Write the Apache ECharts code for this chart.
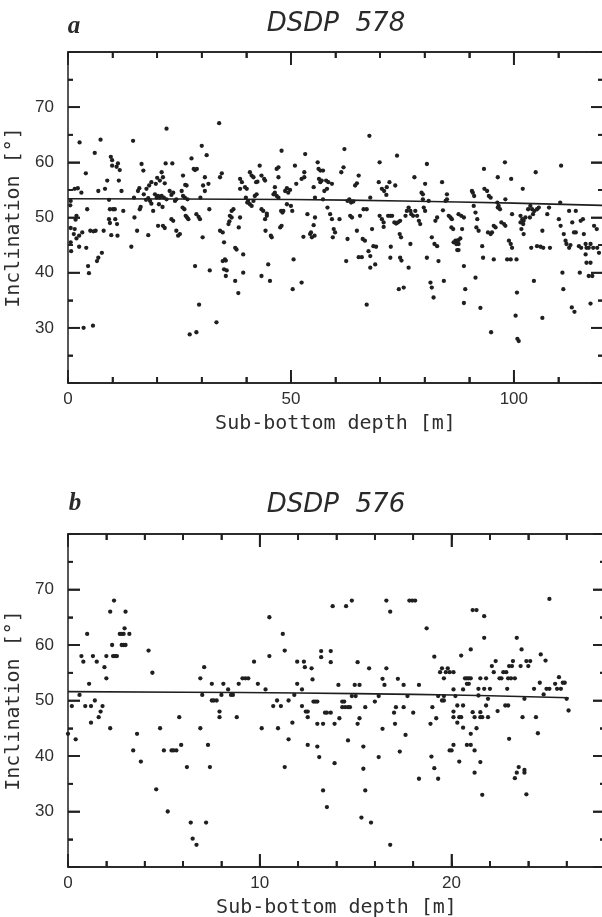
<!DOCTYPE html>
<html>
<head>
<meta charset="utf-8">
<script src="https://cdn.jsdelivr.net/npm/echarts@6/dist/echarts.min.js"></script>
<style>
html,body{margin:0;padding:0;background:#ffffff;}
#chart{width:602px;height:917px;}
</style>
</head>
<body>
<div id="chart"></div>
<script>
// ---------------- DATA ----------------
const titleA = 'DSDP  578';
const titleB = 'DSDP  576';
const panelLetterA = 'a';
const panelLetterB = 'b';
const xNameText = 'Sub-bottom depth [m]';
const yNameText = 'Inclination [°]';

const xRangeA = [0, 120];
const xRangeB = [0, 28];
const yRange = [20, 80];
const xLabelsA = [0, 50, 100];
const xLabelsB = [0, 10, 20];
const yLabels = [30, 40, 50, 60, 70];

// tick positions (axis units)
const xMajorTicksA = [50, 100];
const xMinorTicksA = [10, 20, 30, 40, 60, 70, 80, 90, 110];
const xMajorTicksB = [10, 20];
const xMinorTicksB = [2, 4, 6, 8, 12, 14, 16, 18, 22, 24, 26];
const yMajorTicks = [30, 40, 50, 60, 70];
const yMinorTicks = [25, 35, 45, 55, 65, 75];

// DSDP 578: [sub-bottom depth (m), inclination (deg)]
const pointsA = [
[2.6,63.6],[1.5,55.2],[2.2,55.3],[3.0,54.5],[0.6,53.0],[0.5,52.2],[1.9,50.3],[1.7,49.6],[0.6,48.1],[1.5,47.9],
[1.3,47.0],[2.5,46.7],[1.9,46.2],[0.6,45.5],[2.5,44.7],[0.7,43.9],[3.2,47.3],[4.0,58.0],[4.3,51.5],[4.1,44.5],
[4.5,41.2],[4.7,39.9],[5.0,47.6],[6.0,61.7],[6.8,54.8],[6.2,47.6],[5.7,47.5],[7.3,64.1],[6.5,42.1],[6.8,42.7],
[7.6,43.6],[8.0,47.6],[8.3,55.2],[8.8,56.7],[9.2,53.2],[9.6,61.0],[9.9,60.4],[9.9,59.4],[10.1,51.5],[9.4,51.5],
[9.2,49.7],[9.4,49.0],[9.7,46.8],[11.2,59.8],[10.9,59.2],[11.6,58.6],[11.4,56.7],[10.5,51.5],[10.6,49.7],[11.0,48.8],
[11.1,46.7],[12.0,54.8],[12.4,51.2],[14.2,44.7],[14.6,63.9],[14.8,53.6],[14.9,50.0],[15.5,47.6],[15.7,54.8],[16.0,55.3],
[16.1,51.5],[16.3,51.9],[16.5,59.7],[16.9,58.5],[17.0,54.2],[17.5,53.2],[18.0,46.8],[17.6,55.2],[18.2,55.8],[18.7,56.4],
[18.0,53.5],[18.4,53.0],[18.7,52.5],[19.1,51.2],[19.5,54.2],[19.9,53.6],[19.7,56.1],[20.0,57.2],[20.2,53.9],[20.6,53.6],
[21.0,53.9],[21.5,53.6],[22.1,53.3],[20.4,52.4],[21.2,51.9],[20.6,56.7],[21.3,57.3],[21.7,56.2],[21.0,58.2],[22.1,66.1],
[21.9,59.8],[23.4,59.8],[22.8,54.8],[23.2,54.1],[23.6,54.5],[24.0,53.0],[24.3,53.3],[21.3,48.5],[21.7,48.1],[20.2,48.5],
[23.2,49.7],[23.6,49.4],[24.3,47.6],[24.7,46.7],[25.1,47.0],[25.8,57.6],[26.3,55.9],[26.6,55.8],[25.5,54.8],[25.8,53.9],
[26.2,53.6],[26.8,53.3],[25.7,51.8],[26.1,51.5],[26.4,50.3],[26.7,50.0],[27.0,49.7],[27.7,60.7],[28.2,58.8],[28.5,58.6],
[28.9,58.8],[28.8,50.6],[29.3,50.1],[29.6,49.7],[28.5,41.2],[29.7,53.6],[30.2,46.4],[30.0,63.0],[31.1,61.3],[30.3,55.8],
[30.7,54.8],[31.5,56.1],[30.7,57.3],[31.7,51.5],[31.8,40.4],[33.9,67.1],[34.5,58.0],[34.1,57.3],[34.1,47.6],[34.7,47.3],
[35.0,45.5],[34.7,42.1],[35.2,42.4],[35.4,42.2],[35.0,40.6],[35.6,40.4],[35.4,39.4],[36.3,50.3],[36.7,50.0],[36.2,49.3],
[36.0,48.8],[37.1,51.5],[36.7,51.2],[37.5,44.5],[37.8,44.2],[37.5,38.5],[38.6,57.0],[39.0,56.4],[38.6,55.2],[38.3,48.2],
[38.6,50.0],[39.3,43.3],[39.3,40.0],[40.1,55.2],[39.7,55.5],[40.4,53.0],[39.9,53.6],[40.8,58.2],[41.2,57.6],[41.6,57.3],
[40.2,52.7],[40.8,52.4],[41.2,52.1],[41.6,53.0],[42.2,56.4],[42.5,56.5],[42.3,54.2],[41.9,53.9],[43.0,59.4],[43.4,57.6],
[44.0,57.0],[44.2,56.7],[43.4,51.5],[43.8,51.2],[44.6,50.7],[44.2,49.7],[44.6,50.3],[43.4,39.4],[44.3,47.6],[44.9,41.5],
[45.3,38.5],[45.5,46.7],[45.7,46.4],[46.1,54.2],[46.4,54.5],[46.8,53.9],[47.2,53.6],[46.4,55.5],[46.8,58.8],[47.2,59.1],
[47.2,57.3],[47.9,62.1],[47.8,51.2],[48.1,50.9],[48.3,51.2],[47.6,48.2],[47.9,48.5],[48.7,54.8],[49.1,55.3],[49.4,54.5],
[49.8,55.0],[49.1,52.4],[50.0,52.1],[50.4,37.0],[50.6,42.4],[50.3,51.2],[50.9,59.4],[51.2,56.1],[52.4,57.0],[53.0,57.3],
[53.0,58.2],[52.4,38.2],[52.8,46.5],[53.2,61.5],[53.7,50.6],[54.3,47.0],[54.5,47.3],[54.7,46.4],[55.1,48.6],[56.0,60.0],
[56.2,58.8],[56.6,58.5],[57.2,58.5],[56.3,57.0],[56.6,56.4],[56.9,56.7],[57.5,54.8],[57.2,53.3],[57.9,56.7],[58.4,56.4],
[59.2,56.1],[55.1,55.5],[55.4,53.6],[55.3,46.7],[55.4,50.0],[58.1,55.2],[58.2,51.8],[58.8,50.6],[59.2,49.7],[59.6,47.9],
[59.9,47.3],[59.4,46.4],[60.9,49.7],[61.3,58.2],[61.8,59.1],[62.0,62.4],[62.4,42.1],[62.7,46.1],[62.7,53.0],[63.1,53.3],
[63.5,52.7],[64.0,52.9],[63.3,50.3],[63.7,50.0],[64.4,55.8],[64.8,56.2],[64.8,47.6],[65.2,57.6],[65.2,42.8],[65.9,42.8],
[65.5,50.3],[66.1,46.1],[66.6,45.8],[66.3,51.5],[67.0,51.5],[67.4,43.9],[67.8,43.0],[67.6,64.8],[67.8,53.6],[68.2,47.9],
[68.5,44.8],[69.1,44.7],[68.9,41.5],[67.8,40.9],[67.0,34.2],[69.7,56.4],[69.9,60.0],[69.9,50.3],[70.4,49.7],[70.8,49.1],
[70.4,55.2],[70.9,54.8],[70.8,48.3],[71.8,50.3],[72.3,50.3],[72.7,50.3],[72.1,56.4],[71.5,55.5],[71.4,54.1],[72.3,42.7],
[72.4,44.7],[73.2,49.1],[73.6,48.9],[74.0,49.1],[74.5,49.4],[73.4,55.8],[73.8,61.2],[74.4,47.0],[74.7,46.4],[74.5,42.7],
[74.8,42.2],[74.2,37.0],[75.3,37.3],[75.7,50.3],[76.0,51.2],[76.4,51.8],[76.8,51.2],[77.0,50.6],[77.4,50.3],[76.4,40.9],
[76.8,45.2],[77.7,57.3],[77.9,51.2],[78.3,50.3],[78.7,49.4],[79.0,48.8],[79.3,54.5],[79.6,54.2],[79.6,53.3],[79.8,51.8],
[80.1,51.2],[80.1,56.1],[80.5,59.7],[80.5,42.7],[81.3,38.2],[81.6,37.3],[82.0,35.5],[80.9,53.0],[81.6,46.4],[82.2,45.2],
[82.8,44.8],[82.4,49.4],[82.8,50.0],[83.1,42.1],[83.9,56.4],[84.1,51.3],[84.3,38.5],[84.7,53.0],[85.0,53.3],[85.0,54.2],
[85.4,50.3],[85.8,50.0],[86.1,49.7],[86.5,45.5],[86.9,45.8],[87.3,45.8],[87.6,45.9],[88.0,46.2],[87.6,45.2],[87.1,45.2],
[87.3,44.1],[87.6,44.1],[86.0,48.2],[86.4,47.9],[87.6,50.6],[88.2,50.3],[88.8,50.0],[88.4,47.9],[88.8,41.2],[89.1,37.0],
[88.8,34.5],[90.6,54.8],[90.8,54.5],[91.1,53.9],[91.0,52.1],[91.4,50.9],[91.8,49.7],[91.6,48.2],[92.1,47.6],[91.4,39.1],
[92.9,44.8],[93.1,42.7],[92.5,33.6],[93.3,58.8],[93.4,55.2],[94.0,54.8],[94.4,53.9],[94.8,53.6],[94.2,47.3],[94.8,47.0],
[95.1,47.3],[95.5,48.5],[95.9,48.2],[96.3,52.7],[96.6,52.1],[96.4,51.8],[96.9,51.5],[95.5,42.4],[96.4,57.3],[97.2,49.1],
[97.8,48.8],[98.1,48.5],[98.0,60.0],[98.1,53.3],[98.5,42.4],[99.3,42.4],[98.9,45.8],[99.3,45.2],[99.6,44.5],[99.4,57.0],
[99.6,50.6],[100.6,42.4],[100.7,36.4],[101.5,50.3],[101.9,49.7],[102.2,49.4],[102.6,50.0],[101.5,49.1],[102.1,48.8],[103.2,51.5],
[101.7,47.9],[102.2,47.0],[102.0,55.2],[103.6,50.0],[103.7,52.1],[104.1,51.5],[104.3,50.6],[104.6,51.2],[105.2,51.5],[105.6,51.8],
[103.9,44.5],[104.5,38.5],[104.9,58.2],[105.2,44.8],[106.0,44.7],[106.6,44.5],[106.4,47.6],[107.5,50.6],[107.9,51.8],[108.1,44.5],
[110.1,49.7],[110.5,48.5],[110.4,52.7],[110.6,59.4],[110.9,40.0],[111.1,37.0],[111.2,47.0],[111.6,45.8],[111.8,45.2],[112.4,44.5],
[112.7,45.0],[112.4,51.2],[113.9,51.2],[113.1,49.1],[113.5,47.3],[113.9,47.3],[114.8,40.0],[114.6,44.8],[115.1,44.5],[115.0,49.4],
[115.5,49.7],[115.7,47.0],[116.1,45.2],[116.3,44.5],[116.1,43.3],[116.8,44.5],[117.2,45.2],[117.8,44.5],[116.3,41.8],[117.2,41.8],
[116.8,39.4],[117.6,39.4],[118.0,48.5],[118.6,47.9],[118.7,44.5],[119.1,43.6],
[3.5,30.0],[5.6,30.4],[27.3,28.8],[28.8,29.2],[33.3,31.0],[38.2,36.3],[29.4,34.2],[94.9,29.2],[100.4,32.2],[100.8,28.0],
[101.1,27.6],[106.4,31.8],[113.0,33.7],[113.6,32.9],[117.2,34.4]
];

// DSDP 576: [sub-bottom depth (m), inclination (deg)]
const pointsB = [
[0.0,44],[0.2,49],[0.4,43],[0.6,51],[0.7,58],[0.8,57],[1.0,62],[0.9,49],[1.1,53],[1.2,46],
[1.2,49],[1.3,58],[1.4,50],[1.5,57],[1.6,47],[1.7,48],[1.8,49],[1.9,56],[2.0,54],[2.0,58],
[2.2,45],[2.2,66],[2.3,60],[2.35,58],[2.45,58],[2.55,58],[2.4,68],[2.7,62],[2.8,62],[2.9,62],
[2.8,60],[2.9,60],[3.0,60],[2.95,63],[3.0,66],[3.2,62],[3.4,41],[3.6,44],[3.8,39],[4.2,59],
[4.4,55],[4.8,45],[5.0,41],[5.4,41],[5.5,41],[5.65,41],[5.8,47],[5.9,42],[6.2,38],[6.9,45],
[6.9,54],[7.0,51],[7.1,56],[7.3,42],[7.4,38],[7.5,53],[7.5,50],[7.6,50],[7.75,50],[7.9,48],
[7.9,47],[8.0,51],[8.1,53],[8.35,52],[8.5,51],[8.6,51],[8.8,47],[8.9,53],[9.1,54],[9.25,54],
[9.4,54],[9.7,57],[9.9,53],[10.1,45],[10.3,52],[10.5,58],[10.5,65],[10.7,49],[10.9,50],[10.95,45],
[11.1,49],[11.2,62],[11.3,59],[11.3,38],[11.5,50],[11.5,43],[11.7,46],[11.8,51],[11.95,53],[11.95,57],
[12.2,52],[12.2,49],[12.3,57],[12.35,56],[12.4,48],[12.5,48],[12.5,47],[12.5,42],
[4.6,34],[5.2,30],[6.4,28],[6.5,25.1],[6.7,24],[7.2,28],
[12.7,55.8],[13.0,41.7],[12.75,53.8],[12.8,49.8],[12.9,49.8],[13.0,49.8],[13.0,45.8],[13.1,39.8],[13.2,57.8],[13.2,58.9],
[13.3,45.8],[13.4,47.8],[13.5,47.8],[13.7,47.8],[13.7,58.9],[13.7,56.9],[13.8,67],[13.9,38.7],[13.9,45.8],[14.1,52.8],
[14.15,46.8],[14.3,49.8],[14.4,49.8],[14.3,48.8],[14.45,48.8],[14.6,48.8],[14.7,48.8],[14.5,67],[14.6,42.8],[14.8,68],
[14.8,50.8],[15.0,50.8],[14.95,52.8],[15.2,52.8],[15.1,45.8],[15.1,56.9],[15.2,46.8],[15.4,37.7],[15.4,41.7],[15.5,48.8],
[15.7,55.8],[16.0,49.8],[16.2,39.8],[16.2,50.8],[16.4,44.9],[16.4,53.9],[16.5,52.8],[16.6,68],[16.6,55.8],[16.8,66],
[17.0,47.8],[17.05,45.8],[17.1,48.8],[17.5,48.8],[17.2,53.9],[17.3,40.8],[17.5,52.8],[17.6,43.8],[17.7,50.8],[17.8,68],
[17.95,68],[18.1,68],[18.0,47.8],[18.3,52.8],[18.7,63],[18.9,45.8],[18.95,39.9],[19.0,48.8],[19.1,37.8],[19.1,57.9],
[19.2,46.8],[19.3,50.8],[19.6,50.8],[19.4,55.1],[19.7,55.1],[19.9,55.1],[20.1,55.1],[19.5,50],[19.6,50],[19.5,55.8],
[19.8,55.8],[19.6,54],[19.9,41],[20.0,41],[20.1,52],[20.1,42],[20.1,48],[20.1,47],[20.2,50.8],[20.3,46],
[20.4,39],[20.4,47],[20.5,47],[20.5,58.1],[20.3,49.1],[20.6,49.1],[20.6,45.1],[20.6,52],[20.7,54],[20.8,54],
[20.9,54],[21.0,54],[20.8,53],[20.9,53],[20.8,42],[21.0,42],[21.0,44],[21.0,59.2],[21.1,66.3],[21.3,66.3],
[21.1,47.9],[21.5,47.9],[21.2,47],[21.5,47],[21.6,47],[21.2,41],[21.3,45],[21.4,50.9],[21.4,52.1],[21.5,38.9],
[21.5,54],[21.7,52.1],[21.7,65.2],[21.7,61.3],[21.8,49.1],[21.8,54],[21.9,47],[21.9,50.3],[22.0,52.1],[22.1,56.2],
[22.2,55.1],[22.3,57.1],[22.4,48.1],[22.5,54],[22.6,54],[22.7,55.1],[22.85,55.1],[22.9,52.1],[22.8,49.1],[22.95,49.1],
[22.95,54],[23.1,54],[23.3,54],[23.0,56.2],[23.15,56.2],[23.0,43.1],[23.2,57.1],[23.4,61.3],[23.5,38],[23.8,37.5],
[23.6,56.2],[23.65,59.2],[23.7,47],[23.8,50.3],[23.9,57.1],[24.1,57.1],[24.0,56.2],[24.3,52.1],[24.4,47],[24.5,44.1],
[24.6,53.2],[24.65,58.3],[24.8,51.1],[24.9,57.2],[24.95,52.1],[25.1,52.1],[25.1,68.3],[25.4,53],[25.6,54.2],[25.5,52.1],
[25.7,52.1],[25.8,53.2],[25.9,53.2],[26.0,50.3],[26.1,48.2],
[13.3,33.8],[13.5,30.8],[15.5,33.8],[15.3,28.9],[15.8,28],[16.8,24],[18.3,35.9],[19.3,35.9],[21.2,37],[21.6,33],
[23.3,36],[23.4,37],[23.8,37],[23.9,33.1]
];

// fitted trend curves
const trendA = [[0,53.4],[25,53.35],[50,53.25],[75,53.0],[100,52.6],[120,52.2]];
const trendB = [[0,51.6],[6,51.5],[12,51.35],[18,51.1],[22,50.85],[26.1,50.5]];

// ---------------- CHART ----------------
const ink = '#1f1f1f';
const labelFont = 'Liberation Sans';
const monoFont = 'DejaVu Sans Mono';

const grids = [
  {left: 68, top: 52, width: 535, height: 331, outerBoundsMode: 'none'},
  {left: 68, top: 534, width: 537, height: 333, outerBoundsMode: 'none'}
];

function xAx(gridIndex, position, range, interval, tickLen, labels, withName) {
  const ax = {
    type: 'value', gridIndex, position, min: range[0], max: range[1], interval,
    axisLine: {show: true, onZero: false, lineStyle: {color: ink, width: 1.5}},
    axisTick: {show: true, inside: true, length: tickLen, lineStyle: {color: ink, width: 1.6}},
    splitLine: {show: false},
    axisLabel: labels ? {
      show: true, margin: 8, fontFamily: labelFont, fontSize: 17, color: '#2e2e2e',
      formatter: v => labels.indexOf(v) >= 0 ? String(v) : ''
    } : {show: false}
  };
  if (withName) {
    ax.name = xNameText; ax.nameLocation = 'middle'; ax.nameGap = 31;
    ax.nameTextStyle = {fontFamily: monoFont, fontSize: 20, color: '#2e2e2e'};
  }
  return ax;
}
function yAx(gridIndex, position, labels) {
  const ax = {
    type: 'value', gridIndex, position, min: yRange[0], max: yRange[1], interval: 10,
    axisLine: {show: true, onZero: false, lineStyle: {color: ink, width: 1.5}},
    axisTick: {show: true, inside: true, length: 12, lineStyle: {color: ink, width: 1.6}},
    minorTick: {show: true, splitNumber: 2, length: 5, lineStyle: {color: ink, width: 1.6}},
    splitLine: {show: false},
    axisLabel: labels ? {
      show: true, margin: 14, fontFamily: labelFont, fontSize: 17, color: '#2e2e2e',
      formatter: v => labels.indexOf(v) >= 0 ? String(v) : ''
    } : {show: false}
  };
  if (labels) {
    ax.name = yNameText; ax.nameLocation = 'middle'; ax.nameGap = 33;
    ax.nameTextStyle = {fontFamily: monoFont, fontSize: 20, color: '#2e2e2e'};
  }
  return ax;
}
const xAxes = [
  xAx(0, 'bottom', xRangeA, 10, 6, null, false),
  xAx(0, 'bottom', xRangeA, 50, 13, xLabelsA, true),
  xAx(0, 'top', xRangeA, 10, 6, null, false),
  xAx(0, 'top', xRangeA, 50, 13, null, false),
  xAx(1, 'bottom', xRangeB, 2, 6, null, false),
  xAx(1, 'bottom', xRangeB, 10, 13, xLabelsB, true),
  xAx(1, 'top', xRangeB, 2, 6, null, false),
  xAx(1, 'top', xRangeB, 10, 13, null, false)
];
const yAxes = [yAx(0, 'left', yLabels), yAx(0, 'right', null), yAx(1, 'left', yLabels), yAx(1, 'right', null)];

// frame ticks on all four sides, placed through the axes' scales
function tickItems(xMinor, xMajor) {
  const items = [];
  xMinor.forEach(v => { items.push([v, 0, 6]); items.push([v, 1, 6]); });
  xMajor.forEach(v => { items.push([v, 0, 13]); items.push([v, 1, 13]); });
  yMinorTicks.forEach(v => { items.push([v, 2, 5]); items.push([v, 3, 5]); });
  yMajorTicks.forEach(v => { items.push([v, 2, 12]); items.push([v, 3, 12]); });
  return items;
}
function makeTickRenderer(xr) {
  return function (params, api) {
    const v = api.value(0), side = api.value(1), len = api.value(2);
    const w = 1.8;
    let p, shape;
    if (side === 0) { p = api.coord([v, yRange[0]]); shape = {x: p[0] - w / 2, y: p[1] - len, width: w, height: len}; }
    else if (side === 1) { p = api.coord([v, yRange[1]]); shape = {x: p[0] - w / 2, y: p[1], width: w, height: len}; }
    else if (side === 2) { p = api.coord([xr[0], v]); shape = {x: p[0], y: p[1] - w / 2, width: len, height: w}; }
    else { p = api.coord([xr[1], v]); shape = {x: p[0] - len, y: p[1] - w / 2, width: len, height: w}; }
    return {type: 'rect', shape: shape, style: {fill: ink}};
  };
}

function txt(x, y, text, font) {
  return {type: 'text', x, y, silent: true,
    style: {text, font, fill: '#2a2a2a', textAlign: 'center', textVerticalAlign: 'middle', align: 'center', verticalAlign: 'middle'}};
}

const option = {
  backgroundColor: '#ffffff',
  animation: false,
  grid: grids,
  xAxis: xAxes,
  yAxis: yAxes,
  graphic: [
    txt(336, 24, titleA, 'italic 26px "DejaVu Sans"'),
    txt(74, 27, panelLetterA, 'italic bold 25px "Liberation Serif"'),
    txt(336, 505, titleB, 'italic 26px "DejaVu Sans"'),
    txt(75, 504, panelLetterB, 'italic bold 25px "Liberation Serif"')
  ],
  series: [
    {type: 'scatter', xAxisIndex: 1, yAxisIndex: 0, data: pointsA, symbolSize: 4.3,
      itemStyle: {color: ink, opacity: 1}, silent: true},
    {type: 'line', xAxisIndex: 1, yAxisIndex: 0, data: trendA, smooth: true, showSymbol: false,
      lineStyle: {color: ink, width: 1.6}, silent: true},
    {type: 'custom', xAxisIndex: 1, yAxisIndex: 0, data: tickItems(xMinorTicksA, xMajorTicksA),
      renderItem: makeTickRenderer(xRangeA), clip: false, silent: true, z: 3},
    {type: 'scatter', xAxisIndex: 5, yAxisIndex: 2, data: pointsB, symbolSize: 4.3,
      itemStyle: {color: ink, opacity: 1}, silent: true},
    {type: 'line', xAxisIndex: 5, yAxisIndex: 2, data: trendB, smooth: true, showSymbol: false,
      lineStyle: {color: ink, width: 1.6}, silent: true},
    {type: 'custom', xAxisIndex: 5, yAxisIndex: 2, data: tickItems(xMinorTicksB, xMajorTicksB),
      renderItem: makeTickRenderer(xRangeB), clip: false, silent: true, z: 3}
  ]
};

const chart = echarts.init(document.getElementById('chart'), null, {renderer: 'canvas'});
chart.setOption(option);
</script>
</body>
</html>
